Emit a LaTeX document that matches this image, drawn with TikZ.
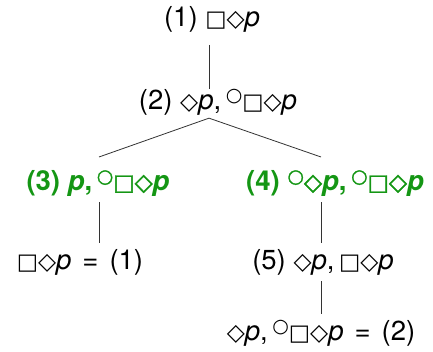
\documentclass[tikz,border=0pt]{standalone}
\usepackage{fontspec}
\setmainfont{TeX Gyre Heros}
\newfontfamily\symf{DejaVu Sans}
\newfontfamily\symfb[FakeBold=1.6]{DejaVu Sans}
\definecolor{tgreen}{RGB}{20,150,20}
\newcommand{\sBox}{{\symf\fontsize{22.5}{22.5}\selectfont □}}
\newcommand{\sDia}{{\symf\fontsize{23.5}{23.5}\selectfont ◇}}
\newcommand{\sNext}{\raisebox{7.5pt}{\symf\fontsize{19}{19}\selectfont ○}}
\newcommand{\pv}{\textit{p}}
\newcommand{\eqs}{\hspace{11pt}=\hspace{11pt}}
\begin{document}
\begin{tikzpicture}[x=1pt,y=1pt,
  lbl/.style={inner sep=0pt,font=\fontsize{27.5}{30}\selectfont},
  grn/.style={lbl,text=tgreen,font=\fontsize{27.5}{30}\selectfont\bfseries\let\symf\symfb},
  edge/.style={line width=0.8pt,draw=black!80}]
\useasboundingbox (0,0) rectangle (433,-352);
\node[lbl] (n1) at (212,-19.7) {(1) \sBox\sDia\pv};
\node[lbl] (n2) at (218,-102) {(2) \sDia\pv,\,\sNext\sBox\sDia\pv};
\node[grn] (n3) at (98,-183) {(3) \pv,\,\sNext\sBox\sDia\pv};
\node[grn] (n4) at (335,-183) {(4) \sNext\sDia\pv,\,\sNext\sBox\sDia\pv};
\node[lbl] (n5) at (80,-262) {\sBox\sDia\pv\eqs(1)};
\node[lbl] (n6) at (323,-262) {(5) \sDia\pv,\,\sBox\sDia\pv};
\node[lbl] (n7) at (321,-333) {\sDia\pv,\,\sNext\sBox\sDia\pv\eqs(2)};
\coordinate (a) at (209,-126);
\draw[edge] (209,-45) coordinate (t1) -- (t1 |- n2.north);
\draw[edge] ([yshift=-3pt]n2.south -| a) -- (99,-157);
\draw[edge] ([yshift=-3pt]n2.south -| a) -- (321,-157);
\draw[edge] ([yshift=-6pt]n3.south -| 99,0) -- ([yshift=6pt]n5.north -| 99,0);
\draw[edge] ([yshift=-6pt]n4.south -| 321,0) -- ([yshift=6pt]n6.north -| 321,0);
\draw[edge] ([yshift=-6pt]n6.south -| 321,0) -- ([yshift=6pt]n7.north -| 321,0);
\end{tikzpicture}
\end{document}
